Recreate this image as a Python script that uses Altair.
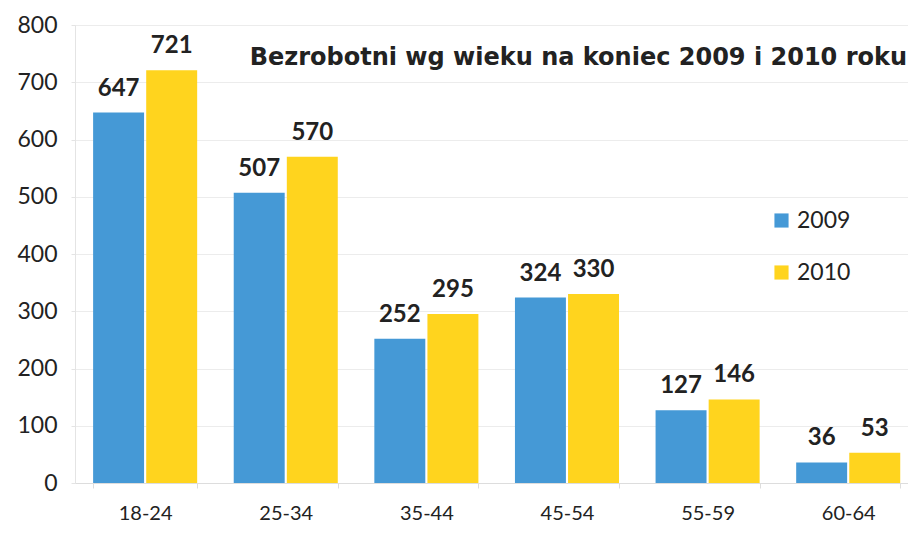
import altair as alt
import pandas as pd

ages = ["18-24", "25-34", "35-44", "45-54", "55-59", "60-64"]
v2009 = [647, 507, 252, 324, 127, 36]
v2010 = [721, 570, 295, 330, 146, 53]
years = ["2009", "2010"]
title_text = "Bezrobotni wg wieku na koniec 2009 i 2010 roku"
y_ticks = [0, 100, 200, 300, 400, 500, 600, 700, 800]

rows = []
for a, b, c in zip(ages, v2009, v2010):
    rows.append({"age": a, "year": "2009", "value": b})
    rows.append({"age": a, "year": "2010", "value": c})
df = pd.DataFrame(rows)

BLUE = "#4599d6"
YELLOW = "#ffd41e"

base = alt.Chart(df).encode(
    x=alt.X(
        "age:N",
        sort=ages,
        title=None,
        scale=alt.Scale(paddingInner=0.26, paddingOuter=0.092, align=0.7),
        axis=alt.Axis(
            labelAngle=0, labelFont="Lato", labelFontSize=20, labelColor="#222222",
            labelPadding=15, domainColor="#dddddd", tickColor="#dddddd",
            tickSize=5, tickBand="extent", grid=False,
        ),
    ),
    xOffset=alt.XOffset("year:N", sort=years, scale=alt.Scale(paddingInner=0.04)),
    y=alt.Y(
        "value:Q",
        title=None,
        scale=alt.Scale(domain=[0, 800], nice=False),
        axis=alt.Axis(
            values=y_ticks, labelFont="Lato", labelFontSize=23, labelColor="#222222",
            labelPadding=14, domainColor="#e4e4e4", tickSize=4, tickColor="#e4e4e4",
            gridColor="#ececec", grid=True,
        ),
    ),
)

bars = base.mark_bar().encode(
    color=alt.Color(
        "year:N",
        sort=years,
        scale=alt.Scale(domain=years, range=[BLUE, YELLOW]),
        legend=alt.Legend(
            title=None, orient="none", legendX=695, legendY=184,
            symbolType="square", symbolSize=200, symbolStrokeWidth=0,
            labelFont="Lato", labelFontSize=23, labelColor="#222222",
            rowPadding=28, labelOffset=4,
        ),
    )
)

labels = base.mark_text(
    font="Lato", fontWeight="bold", fontSize=24, color="#222222",
    baseline="bottom", dy=-12,
).encode(text="value:Q")

title_df = pd.DataFrame({"t": [title_text]})
title = alt.Chart(title_df).mark_text(
    font="DejaVu Sans", fontWeight="bold", fontSize=24, color="#222222",
    align="right", baseline="middle",
).encode(x=alt.value(832), y=alt.value(33), text="t:N")

chart = alt.layer(bars, labels, title).properties(
    width=833, height=458, autosize="none",
    padding={"left": 67, "top": 17, "right": 0, "bottom": 42},
).configure_view(stroke=None).configure(background="white")

chart.save("out.html", embed_options={"renderer": "svg", "actions": False})
